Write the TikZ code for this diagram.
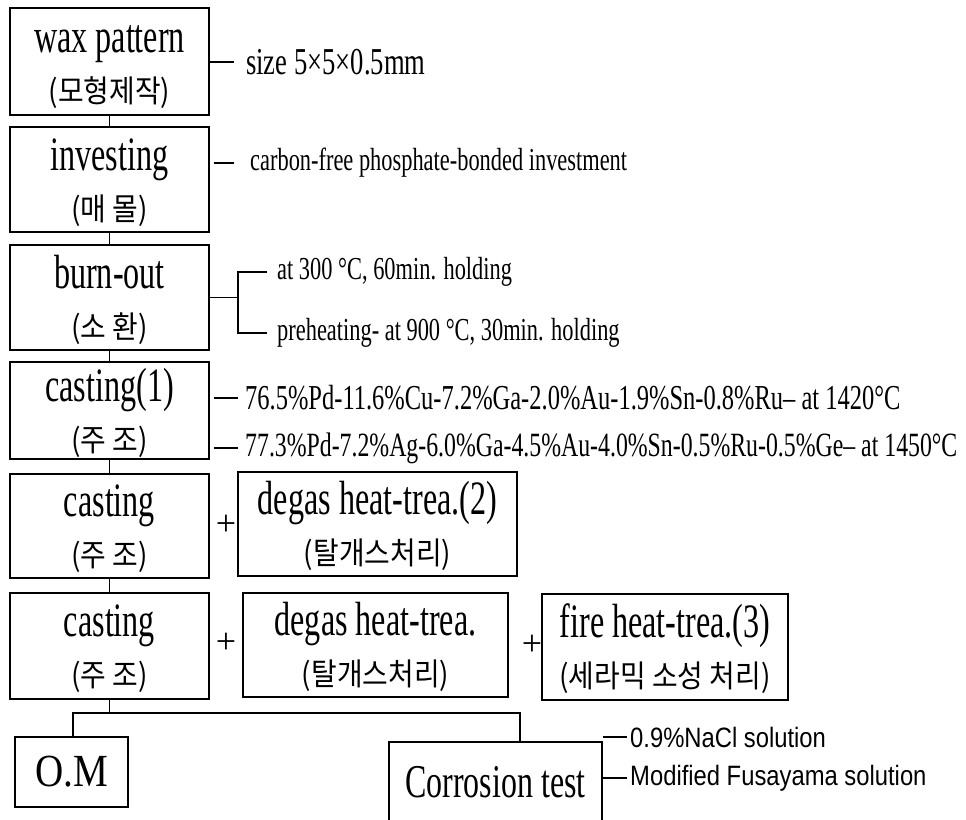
\documentclass[tikz,border=0pt]{standalone}
\usepackage{fontspec}
\setmainfont{Liberation Serif}
\newfontfamily\cond[FakeStretch=0.7]{Liberation Serif}
\newfontfamily\ttlfont[FakeStretch=0.67]{Liberation Serif}
\newfontfamily\condom[FakeStretch=0.85]{Liberation Serif}
\newfontfamily\condct[FakeStretch=0.68]{Liberation Serif}
\newfontfamily\kr[FakeStretch=0.9]{Noto Sans CJK KR}
\newfontfamily\sanscond[FakeStretch=0.85]{Liberation Sans}
\newcommand\boxtxt[2]{{\ttlfont\fontsize{48}{50}\selectfont\rule{0pt}{38pt}#1}\\{\kr\fontsize{31}{50}\selectfont\rule[-5pt]{0pt}{5pt}#2}}
\begin{document}
\begin{tikzpicture}[x=1pt,y=-1pt,
  box/.style={draw,line width=1.3pt,inner sep=0pt,align=center,font=\fontsize{31}{50}\selectfont},
  lbl/.style={anchor=west,inner sep=0pt,font=\cond\fontsize{32}{32}\selectfont},
  slbl/.style={anchor=west,inner sep=0pt,font=\sanscond\fontsize{28}{28}\selectfont},
  plus/.style={inner sep=0pt,font=\fontsize{36}{36}\selectfont},
  conn/.style={line width=1.2pt}]
\clip (0,0) rectangle (966,819);
\fill[white] (0,0) rectangle (966,819);
% main column
\node[box,minimum width=199pt,minimum height=107pt] (b1) at (109.5,61.5) {\boxtxt{wax pattern}{(모형제작)}};
\node[box,minimum width=199pt,minimum height=105pt] (b2) at (109.5,179.5) {\boxtxt{investing}{(매 몰)}};
\node[box,minimum width=199pt,minimum height=105pt] (b3) at (109.5,297.5) {\boxtxt{burn-out}{(소 환)}};
\node[box,minimum width=199pt,minimum height=97pt] (b4) at (109.5,410.5) {\boxtxt{casting(1)}{(주 조)}};
\node[box,minimum width=199pt,minimum height=104pt] (b5) at (109.5,526) {\boxtxt{casting}{(주 조)}};
\node[box,minimum width=279pt,minimum height=104pt] (b6) at (377.5,524) {\boxtxt{degas heat-trea.(2)}{(탈개스처리)}};
\node[box,minimum width=199pt,minimum height=106pt] (b7) at (109.5,646) {\boxtxt{casting}{(주 조)}};
\node[box,minimum width=265pt,minimum height=104pt] (b8) at (375.5,645) {\boxtxt{degas heat-trea.}{(탈개스처리)}};
\node[box,minimum width=246pt,minimum height=106pt] (b9) at (665,647) {\boxtxt{fire heat-trea.(3)}{(세라믹 소성 처리)}};
\node[box,minimum width=113pt,minimum height=70pt,font=\condom\fontsize{46}{46}\selectfont] (om) at (71.5,772) {O.M};
\node[box,minimum width=213pt,minimum height=80pt,font=\condct\fontsize{47}{47}\selectfont] (corr) at (495.5,782) {Corrosion test};
% plus signs
\node[plus] (p1) at (226,525) {+};
\node[plus] (p2) at (226,643) {+};
\node[plus] (p3) at (532,645) {+};
% vertical connectors
\draw[conn] (b1) -- (b2);
\draw[conn] (b2) -- (b3);
\draw[conn] (b3) -- (b4);
\draw[conn] (b4) -- (b5);
\draw[conn] (b5) -- (b7);
% labels
\node[lbl,font=\cond\fontsize{38}{38}\selectfont] (l1) at (246,62) {size 5×5×0.5mm};
\draw[conn] (b1.east |- l1.west) -- ([xshift=-12pt]l1.west);
\node[lbl] (l2) at (250,163) {carbon-free phosphate-bonded investment};
\draw[conn] ([xshift=4pt]b2.east |- l2.west) -- ([xshift=-16pt]l2.west);
\node[lbl] (l3a) at (277,272) {at 300 °C, 60min. holding};
\node[lbl] (l3b) at (277,333) {preheating- at 900 °C, 30min. holding};
\coordinate (br) at (238,297.5);
\draw[conn] (b3.east) -- (br);
\draw[conn] ([xshift=-10pt]l3a.west) -- (l3a.west -| br) -- (l3b.west -| br) -- ([xshift=-10pt]l3b.west);
\node[lbl,font=\cond\fontsize{35}{35}\selectfont] (l4a) at (245,398) {76.5\%Pd-11.6\%Cu-7.2\%Ga-2.0\%Au-1.9\%Sn-0.8\%Ru– at 1420°C};
\node[lbl,font=\cond\fontsize{34}{34}\selectfont] (l4b) at (245,448) {77.3\%Pd-7.2\%Ag-6.0\%Ga-4.5\%Au-4.0\%Sn-0.5\%Ru-0.5\%Ge– at 1450°C};
\draw[conn] ([xshift=4pt]b4.east |- l4a.west) -- ([xshift=-7pt]l4a.west);
\draw[conn] ([xshift=4pt]b4.east |- l4b.west) -- ([xshift=-7pt]l4b.west);
% bottom tree
\coordinate (jl) at (73,713);
\coordinate (jr) at (520,713);
\draw[conn] (b7.south) -- (b7.south |- jl);
\draw[conn] (jl |- om.north) -- (jl) -- (jr) -- (jr |- corr.north);
% corrosion solutions
\node[slbl] (n1) at (630,737) {0.9\%NaCl solution};
\node[slbl] (n2) at (630,778) {Modified Fusayama solution};
\draw[conn] (corr.east |- n1.west) -- ([xshift=-3pt]n1.west);
\draw[conn] (corr.east |- n2.west) -- ([xshift=-3pt]n2.west);
\end{tikzpicture}
\end{document}
